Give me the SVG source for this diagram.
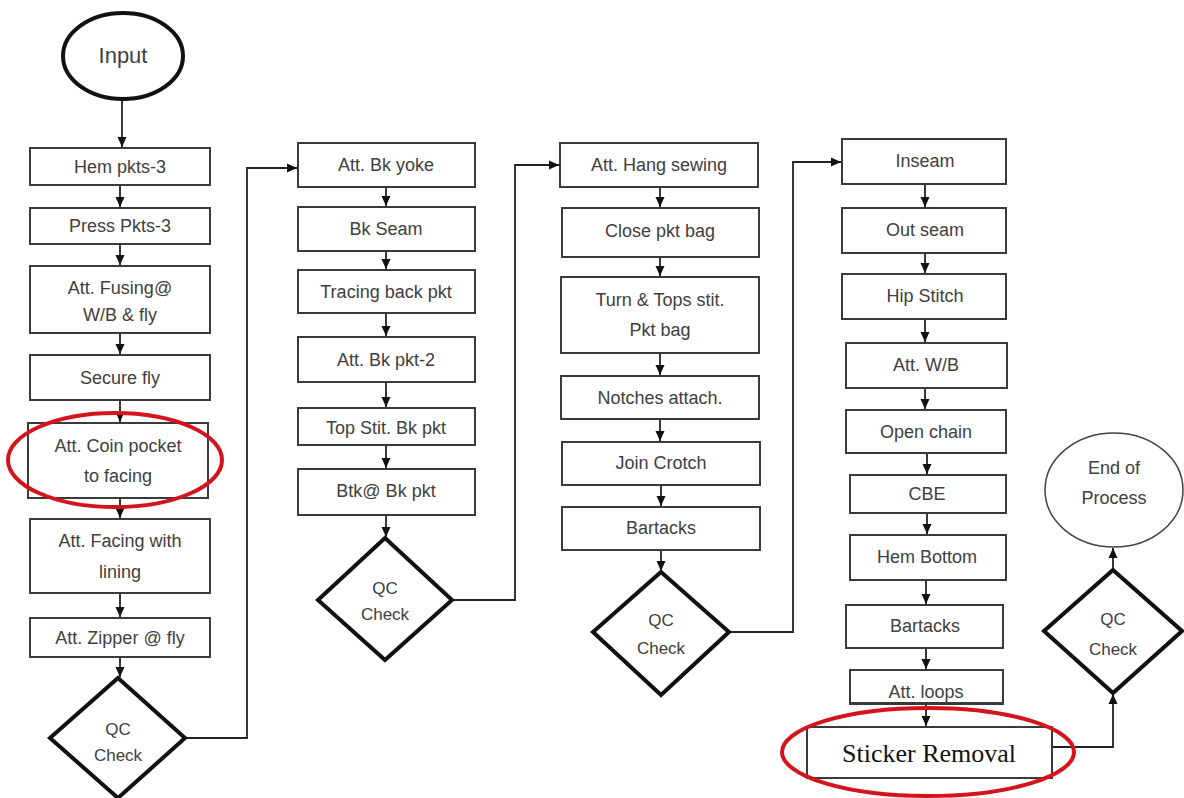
<svg xmlns="http://www.w3.org/2000/svg" width="1184" height="798" viewBox="0 0 1184 798">
<defs>
<marker id="arr" markerWidth="11" markerHeight="11" refX="10" refY="5.5" orient="auto" markerUnits="userSpaceOnUse">
<path d="M0,1 L10,5.5 L0,10 Z" fill="#111"/>
</marker>
<style>
.box{fill:#fff;stroke:#3a3a3a;stroke-width:2}
.dia{fill:#fff;stroke:#111;stroke-width:4;stroke-linejoin:miter}
.t{font-family:"Liberation Sans",Arial,sans-serif;font-size:18px;fill:#404040;text-anchor:middle}
.q{font-family:"Liberation Sans",Arial,sans-serif;font-size:17px;fill:#404040;text-anchor:middle}
.c{fill:none;stroke:#222;stroke-width:1.8}
.red{fill:none;stroke:#d3141c;stroke-width:4}
</style>
</defs>
<rect width="1184" height="798" fill="#fff"/>

<g id="connectors">
<line class="c" x1="122" y1="100" x2="122" y2="147" marker-end="url(#arr)"/>
<line class="c" x1="120" y1="185" x2="120" y2="207" marker-end="url(#arr)"/>
<line class="c" x1="120" y1="244" x2="120" y2="265" marker-end="url(#arr)"/>
<line class="c" x1="120" y1="333" x2="120" y2="354" marker-end="url(#arr)"/>
<line class="c" x1="120" y1="400" x2="120" y2="422" marker-end="url(#arr)"/>
<line class="c" x1="120" y1="498" x2="120" y2="518" marker-end="url(#arr)"/>
<line class="c" x1="120" y1="593" x2="120" y2="617" marker-end="url(#arr)"/>
<line class="c" x1="120" y1="657" x2="120" y2="677" marker-end="url(#arr)"/>
<polyline class="c" points="185,738 247,738 247,168 297,168" marker-end="url(#arr)"/>

<line class="c" x1="386" y1="187" x2="386" y2="206" marker-end="url(#arr)"/>
<line class="c" x1="386" y1="251" x2="386" y2="269" marker-end="url(#arr)"/>
<line class="c" x1="386" y1="313" x2="386" y2="336" marker-end="url(#arr)"/>
<line class="c" x1="386" y1="382" x2="386" y2="407" marker-end="url(#arr)"/>
<line class="c" x1="386" y1="445" x2="386" y2="468" marker-end="url(#arr)"/>
<line class="c" x1="386" y1="515" x2="386" y2="537" marker-end="url(#arr)"/>
<polyline class="c" points="452,600 515,600 515,165 559,165" marker-end="url(#arr)"/>

<line class="c" x1="660" y1="187" x2="660" y2="207" marker-end="url(#arr)"/>
<line class="c" x1="660" y1="257" x2="660" y2="276" marker-end="url(#arr)"/>
<line class="c" x1="660" y1="353" x2="660" y2="375" marker-end="url(#arr)"/>
<line class="c" x1="660" y1="419" x2="660" y2="441" marker-end="url(#arr)"/>
<line class="c" x1="661" y1="485" x2="661" y2="506" marker-end="url(#arr)"/>
<line class="c" x1="661" y1="550" x2="661" y2="571" marker-end="url(#arr)"/>
<polyline class="c" points="729,632 793,632 793,162 841,162" marker-end="url(#arr)"/>

<line class="c" x1="925" y1="184" x2="925" y2="207" marker-end="url(#arr)"/>
<line class="c" x1="925" y1="253" x2="925" y2="273" marker-end="url(#arr)"/>
<line class="c" x1="925" y1="319" x2="925" y2="342" marker-end="url(#arr)"/>
<line class="c" x1="925" y1="388" x2="925" y2="409" marker-end="url(#arr)"/>
<line class="c" x1="927" y1="453" x2="927" y2="474" marker-end="url(#arr)"/>
<line class="c" x1="927" y1="513" x2="927" y2="534" marker-end="url(#arr)"/>
<line class="c" x1="926" y1="580" x2="926" y2="604" marker-end="url(#arr)"/>
<line class="c" x1="926" y1="648" x2="926" y2="669" marker-end="url(#arr)"/>
<line class="c" x1="926" y1="704" x2="926" y2="726" marker-end="url(#arr)"/>
<polyline class="c" points="1052,747 1113,747 1113,694" marker-end="url(#arr)"/>
<line class="c" x1="1113" y1="570" x2="1113" y2="548" marker-end="url(#arr)"/>
</g>

<g id="input"><ellipse cx="123" cy="56" rx="60" ry="43" fill="#fff" stroke="#111" stroke-width="4"/><text class="t" x="123" y="63" style="font-size:22px">Input</text></g>

<g id="hem-pkts"><rect class="box" x="30" y="148" width="180" height="37"/><text class="t" x="120" y="173">Hem pkts-3</text></g>
<g id="press-pkts"><rect class="box" x="30" y="208" width="180" height="36"/><text class="t" x="120" y="232">Press Pkts-3</text></g>
<g id="att-fusing"><rect class="box" x="30" y="266" width="180" height="67"/><text class="t" x="120" y="294">Att. Fusing@</text><text class="t" x="120" y="321">W/B &amp; fly</text></g>
<g id="secure-fly"><rect class="box" x="30" y="355" width="180" height="45"/><text class="t" x="120" y="384">Secure fly</text></g>
<g id="coin-pocket"><rect class="box" x="28" y="423" width="180" height="75"/><text class="t" x="118" y="452">Att. Coin pocket</text><text class="t" x="118" y="482">to facing</text><ellipse class="red" cx="115" cy="460" rx="107" ry="47"/></g>
<g id="facing-lining"><rect class="box" x="30" y="519" width="180" height="74"/><text class="t" x="120" y="547">Att. Facing with</text><text class="t" x="120" y="578">lining</text></g>
<g id="zipper"><rect class="box" x="30" y="618" width="180" height="39"/><text class="t" x="120" y="644">Att. Zipper @ fly</text></g>
<g id="qc1"><polygon class="dia" points="118,678 185,738 118,798 50,738"/><text class="q" x="118" y="735">QC</text><text class="q" x="118" y="761">Check</text></g>

<g id="bk-yoke"><rect class="box" x="298" y="143" width="177" height="44"/><text class="t" x="386" y="171">Att. Bk yoke</text></g>
<g id="bk-seam"><rect class="box" x="298" y="207" width="177" height="44"/><text class="t" x="386" y="235">Bk Seam</text></g>
<g id="tracing"><rect class="box" x="298" y="270" width="177" height="43"/><text class="t" x="386" y="298">Tracing back pkt</text></g>
<g id="bk-pkt2"><rect class="box" x="298" y="337" width="177" height="45"/><text class="t" x="386" y="366">Att. Bk pkt-2</text></g>
<g id="top-stit"><rect class="box" x="298" y="408" width="177" height="37"/><text class="t" x="386" y="434">Top Stit. Bk pkt</text></g>
<g id="btk"><rect class="box" x="298" y="469" width="177" height="46"/><text class="t" x="386" y="497">Btk@ Bk pkt</text></g>
<g id="qc2"><polygon class="dia" points="385,538 452,600 385,660 318,600"/><text class="q" x="385" y="594">QC</text><text class="q" x="385" y="620">Check</text></g>

<g id="hang-sewing"><rect class="box" x="560" y="143" width="198" height="44"/><text class="t" x="659" y="171">Att. Hang sewing</text></g>
<g id="close-pkt"><rect class="box" x="562" y="208" width="197" height="49"/><text class="t" x="660" y="237">Close pkt bag</text></g>
<g id="turn-tops"><rect class="box" x="561" y="277" width="198" height="76"/><text class="t" x="660" y="306">Turn &amp; Tops stit.</text><text class="t" x="660" y="336">Pkt bag</text></g>
<g id="notches"><rect class="box" x="561" y="376" width="198" height="43"/><text class="t" x="660" y="404">Notches attach.</text></g>
<g id="join-crotch"><rect class="box" x="562" y="442" width="198" height="43"/><text class="t" x="661" y="469">Join Crotch</text></g>
<g id="bartacks1"><rect class="box" x="562" y="507" width="198" height="43"/><text class="t" x="661" y="534">Bartacks</text></g>
<g id="qc3"><polygon class="dia" points="661,572 729,632 661,695 593,632"/><text class="q" x="661" y="626">QC</text><text class="q" x="661" y="654">Check</text></g>

<g id="inseam"><rect class="box" x="842" y="139" width="164" height="45"/><text class="t" x="925" y="167">Inseam</text></g>
<g id="out-seam"><rect class="box" x="842" y="208" width="164" height="45"/><text class="t" x="925" y="236">Out seam</text></g>
<g id="hip-stitch"><rect class="box" x="842" y="274" width="164" height="45"/><text class="t" x="925" y="302">Hip Stitch</text></g>
<g id="att-wb"><rect class="box" x="846" y="343" width="161" height="45"/><text class="t" x="926" y="371">Att. W/B</text></g>
<g id="open-chain"><rect class="box" x="846" y="410" width="160" height="43"/><text class="t" x="926" y="438">Open chain</text></g>
<g id="cbe"><rect class="box" x="850" y="475" width="156" height="38"/><text class="t" x="927" y="500">CBE</text></g>
<g id="hem-bottom"><rect class="box" x="850" y="535" width="156" height="45"/><text class="t" x="927" y="563">Hem Bottom</text></g>
<g id="bartacks2"><rect class="box" x="846" y="605" width="157" height="43"/><text class="t" x="925" y="632">Bartacks</text></g>
<g id="att-loops"><rect class="box" x="850" y="670" width="153" height="34"/><text class="t" x="926" y="698">Att. loops</text><rect x="849" y="702" width="155" height="3" fill="#3a3a3a"/></g>
<g id="sticker-removal"><rect class="box" x="807" y="727" width="245" height="51" stroke="#111"/><text x="929" y="762" style="font-family:'Liberation Serif','Times New Roman',serif;font-size:26px;fill:#111;text-anchor:middle">Sticker Removal</text><ellipse class="red" cx="928" cy="752" rx="146" ry="44"/></g>
<g id="qc4"><polygon class="dia" points="1113,570 1182,631 1113,693 1044,631"/><text class="q" x="1113" y="625">QC</text><text class="q" x="1113" y="655">Check</text></g>
<g id="end"><ellipse cx="1114" cy="490" rx="69" ry="57" fill="#fff" stroke="#444" stroke-width="1.5"/><text class="t" x="1114" y="474">End of</text><text class="t" x="1114" y="504">Process</text></g>
</svg>
